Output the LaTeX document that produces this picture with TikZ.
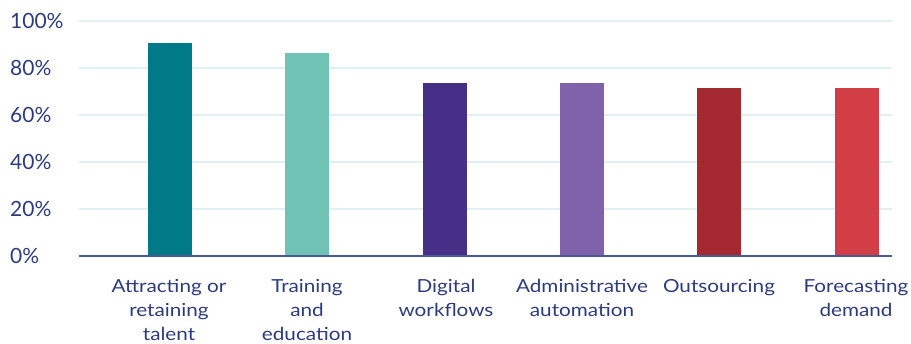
\documentclass[tikz,border=0pt]{standalone}
\usepackage{fontspec}
\setmainfont{Lato}
\newfontfamily\catfont{Lato}[FakeStretch=1.15]
\definecolor{axistext}{HTML}{2D3B7D}
\definecolor{axisline}{HTML}{4B5897}
\definecolor{gridcol}{HTML}{E2F0F5}
\definecolor{barA}{HTML}{007A87}
\definecolor{barB}{HTML}{6FC2B4}
\definecolor{barC}{HTML}{452F87}
\definecolor{barD}{HTML}{7F62AA}
\definecolor{barE}{HTML}{A4282F}
\definecolor{barF}{HTML}{D13E45}
\begin{document}
\begin{tikzpicture}[x=1pt, y=1pt,
  ylab/.style = {anchor=west, inner sep=0pt, text=axistext,
    font=\fontsize{21}{25}\selectfont},
  xlab/.style = {anchor=north, inner sep=0pt, align=center, text=axistext,
    font=\catfont\fontsize{18}{24}\selectfont},
  gridline/.style = {draw=gridcol, line width=1.2pt},
  axis/.style = {draw=axisline, line width=1.3pt}]
\useasboundingbox (0,0) rectangle (911,343);
% grid and y labels
\foreach \p in {20,40,...,100}
  \draw[gridline] (79,{87+2.35*\p}) -- (892,{87+2.35*\p});
\foreach \p in {0,20,...,100}
  \node[ylab] (y\p) at (10,{87+2.35*\p}) {\p\%};
% bars
\foreach \x/\v/\c in {170/90.6/barA, 307/86.4/barB, 445/73.6/barC,
                      582/73.6/barD, 719/71.5/barE, 857/71.5/barF}
  \fill[\c] (\x-22,87) rectangle (\x+22,{87+2.35*\v});
\coordinate (origin) at (79,87);
\coordinate (xend) at (892,87);
\draw[axis] (origin) -- (xend);
% category labels
\node[xlab] (talent)   at (169,64) {Attracting or\\retaining\\talent};
\node[xlab] (training) at (307,64) {Training\\and\\education};
\node[xlab] (digital)  at (446,64) {Digital\\workflows};
\node[xlab] (admin)    at (582,64) {Administrative\\automation};
\node[xlab] (outsrc)   at (719,64) {Outsourcing};
\node[xlab] (forecast) at (856,64) {Forecasting\\demand};
\end{tikzpicture}
\end{document}
